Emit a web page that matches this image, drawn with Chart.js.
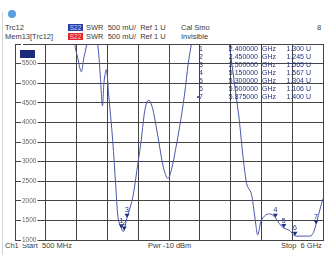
<!DOCTYPE html>
<html>
<head>
<meta charset="utf-8">
<script src="https://cdn.jsdelivr.net/npm/chart.js@4"></script>
<style>
  body { margin: 0; width: 324px; height: 255px; background: #fff; overflow: hidden; position: relative;
         font-family: "Liberation Sans", Arial, sans-serif; font-size: 7.5px; color: #3a3a3a; }
  .t { position: absolute; white-space: nowrap; line-height: 9px; }
  .tag { position: absolute; width: 15px; height: 7px; color: #cfd6ff; font-size: 6.5px; line-height: 7px; text-align: center; }
  #wrap { position: absolute; left: 0; top: 0; width: 324px; height: 255px; }
  #side { position: absolute; left: 2px; top: 12px; width: 1px; height: 243px; background: #d4d4d4; }
  #logo { position: absolute; left: 8px; top: 10px; width: 8px; height: 8px; border-radius: 50%; background: #5aa0e0; }
  #mtab { position: absolute; left: 190px; top: 45px; width: 134px; color: #24347e; font-size: 7px; }
  #mtab div { position: relative; height: 8px; line-height: 8px; }
  #mtab span { position: absolute; top: 0; white-space: nowrap; }
  #mtab .r { text-align: right; }
</style>
</head>
<body>
<div id="side"></div>
<div id="logo"></div>
<div class="t" style="left:5px;top:23px">Trc12</div>
<div class="t" style="left:5px;top:32px">Mem13[Trc12]</div>
<div class="tag" style="left:68px;top:24px;background:#2b3ea6">S22</div>
<div class="tag" style="left:68px;top:33px;background:#e3262a;color:#ffd0d0">S22</div>
<div class="t" style="left:86px;top:23px">SWR&nbsp; 500 mU/&nbsp; Ref 1 U</div>
<div class="t" style="left:86px;top:32px">SWR&nbsp; 500 mU/&nbsp; Ref 1 U</div>
<div class="t" style="left:181px;top:23px">Cal Smo</div>
<div class="t" style="left:181px;top:32px">Invisible</div>
<div class="t" style="left:317px;top:23px">8</div>
<div class="t" style="left:5px;top:241px">Ch1</div>
<div class="t" style="left:22px;top:241px">Start&nbsp; 500 MHz</div>
<div class="t" style="left:148px;top:241px">Pwr -10 dBm</div>
<div class="t" style="left:281px;top:241px">Stop&nbsp; 6 GHz</div>
<div id="wrap"><canvas id="c" width="324" height="255"></canvas></div>
<div id="mtab"></div>
<script>
// trace S22 SWR, x in MHz, y in mU
const freqMHz = [500, 1200, 1500, 1568, 1621, 1684, 1728, 1782, 1870, 1977, 2022, 2061, 2093, 2132, 2173, 2244, 2298, 2340, 2380, 2400, 2420, 2440, 2450, 2470, 2500, 2550, 2605, 2695, 2755, 2805, 2850, 2890, 2930, 2974, 3063, 3152, 3229, 3294, 3366, 3437, 3526, 3597, 3650, 3800, 4000, 4200, 4327, 4434, 4505, 4558, 4624, 4653, 4713, 4754, 4802, 4831, 4861, 4896, 4980, 5069, 5150, 5220, 5300, 5395, 5500, 5573, 5690, 5787, 5840, 5875, 5959, 6000];
const swrMilli = [14000, 12000, 7600, 6000, 5640, 5290, 5640, 6000, 7000, 6000, 5210, 4420, 5080, 5340, 4700, 3550, 2400, 1560, 1360, 1300, 1230, 1215, 1245, 1380, 1565, 1800, 2100, 2960, 3550, 4190, 4500, 4570, 4480, 4260, 3550, 2840, 2570, 2790, 3300, 3860, 4700, 5540, 6000, 7500, 8200, 7500, 6000, 4830, 4060, 3300, 2530, 2360, 2220, 1890, 1380, 1130, 1260, 1490, 1640, 1660, 1567, 1420, 1304, 1250, 1106, 1100, 1100, 1110, 1230, 1400, 1850, 2050];

// markers
const markerNames = ['1', '2', '3', '4', '5', '6', '7'];
const markerFreqMHz = [2400, 2450, 2500, 5150, 5300, 5500, 5875];
const markerSwr = [1300, 1245, 1565, 1567, 1304, 1106, 1400];
const markerFreqText = ['2.400000', '2.450000', '2.500000', '5.150000', '5.300000', '5.500000', '5.875000'];
const markerSwrText = ['1.300 U', '1.245 U', '1.565 U', '1.567 U', '1.304 U', '1.106 U', '1.400 U'];

// axes
const xGridMHz = [500, 1050, 1600, 2150, 2700, 3250, 3800, 4350, 4900, 5450, 6000];
const yTicks = [1000, 1500, 2000, 2500, 3000, 3500, 4000, 4500, 5000, 5500, 6000];
const yTickLabels = ['1000', '1500', '2000', '2500', '3000', '3500', '4000', '4500', '5000', '5500', ''];

const traceColor = '#4b57a8';
const markerColor = '#1d2f86';

// marker table
const tab = document.getElementById('mtab');
markerNames.forEach((n, i) => {
    const row = document.createElement('div');
    row.innerHTML =
        `<span class="r" style="left:0;width:13px">${i === 6 ? '\u2022' : ''}${n}</span>` +
        `<span class="r" style="left:28px;width:40px">${markerFreqText[i]}</span>` +
        `<span style="left:72px">GHz</span>` +
        `<span class="r" style="left:90px;width:31px">${markerSwrText[i]}</span>`;
    tab.appendChild(row);
});

const markerPlugin = {
    id: 'markers',
    afterDatasetsDraw(chart) {
        const { ctx, scales: { x, y } } = chart;
        ctx.save();
        ctx.fillStyle = markerColor;
        ctx.font = '7px "Liberation Sans", Arial, sans-serif';
        ctx.textAlign = 'center';
        ctx.textBaseline = 'bottom';
        markerFreqMHz.forEach((f, i) => {
            const px = x.getPixelForValue(f);
            const py = y.getPixelForValue(markerSwr[i]);
            ctx.beginPath();
            ctx.moveTo(px, py);
            ctx.lineTo(px - 2.5, py - 4);
            ctx.lineTo(px + 2.5, py - 4);
            ctx.closePath();
            ctx.fill();
            ctx.fillText(markerNames[i], px, py - 4);
        });
        // trace colour box in the top left corner
        ctx.fillStyle = '#1c2a7a';
        ctx.fillRect(chart.chartArea.left + 5, chart.chartArea.top + 6, 15, 8);
        ctx.restore();
    }
};

new Chart(document.getElementById('c'), {
    type: 'line',
    data: {
        datasets: [{
            data: freqMHz.map((f, i) => ({ x: f, y: swrMilli[i] })),
            borderColor: traceColor,
            borderWidth: 1,
            pointRadius: 0,
            tension: 0.35,
            fill: false
        }]
    },
    options: {
        responsive: false,
        animation: false,
        events: [],
        layout: { padding: { left: 15, top: 44, right: 1, bottom: 15 } },
        plugins: { legend: { display: false }, tooltip: { enabled: false } },
        scales: {
            x: {
                type: 'linear',
                min: 500,
                max: 6000,
                afterBuildTicks: s => { s.ticks = xGridMHz.map(v => ({ value: v })); },
                afterFit: s => { s.height = 0; },
                ticks: { display: false },
                grid: { color: '#444', lineWidth: 1, drawTicks: false },
                border: { color: '#444' }
            },
            y: {
                min: 1000,
                max: 6000,
                afterBuildTicks: s => { s.ticks = yTicks.map(v => ({ value: v })); },
                afterFit: s => { s.width = 0; },
                ticks: {
                    mirror: true,
                    padding: 7,
                    color: '#666',
                    font: { size: 6.5, family: '"Liberation Sans", Arial, sans-serif' },
                    showLabelBackdrop: true,
                    backdropColor: '#fff',
                    backdropPadding: { x: 1, y: 0 },
                    callback: (v, i) => yTickLabels[i]
                },
                grid: { color: '#444', lineWidth: 1, drawTicks: false },
                border: { color: '#444' }
            }
        }
    },
    plugins: [markerPlugin]
});
</script>
</body>
</html>
